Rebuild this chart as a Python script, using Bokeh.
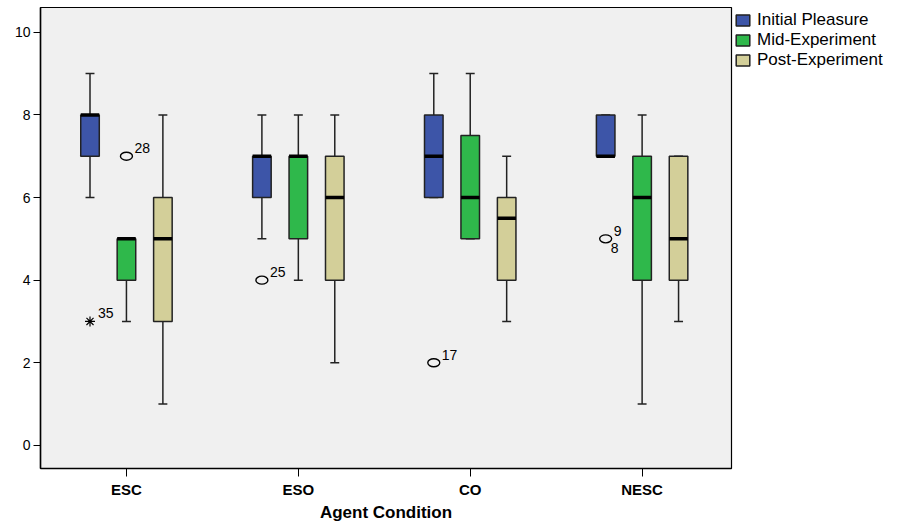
from bokeh.plotting import figure
from bokeh.models import (Range1d, FixedTicker, Legend, LegendItem, ColumnDataSource)
from bokeh.core.properties import value
from bokeh.embed import file_html
from bokeh.resources import INLINE

categories = ["ESC", "ESO", "CO", "NESC"]
series_names = ["Initial Pleasure", "Mid-Experiment", "Post-Experiment"]
series_colors = ["#3D55A8", "#2FB84B", "#D3CF99"]

# per series: values for ESC, ESO, CO, NESC
initial_low = [6, 5, 6, 7]
initial_q1 = [7, 6, 6, 7]
initial_med = [8, 7, 7, 7]
initial_q3 = [8, 7, 8, 8]
initial_high = [9, 8, 9, 8]

mid_low = [3, 4, 5, 1]
mid_q1 = [4, 5, 5, 4]
mid_med = [5, 7, 6, 6]
mid_q3 = [5, 7, 7.5, 7]
mid_high = [5, 8, 9, 8]

post_low = [1, 2, 3, 3]
post_q1 = [3, 4, 4, 4]
post_med = [5, 6, 5.5, 5]
post_q3 = [6, 7, 6, 7]
post_high = [8, 8, 7, 7]

# outliers: category index, series index, value, label, kind
out_cat = [0, 0, 1, 2, 3]
out_series = [0, 1, 0, 0, 0]
out_value = [3, 7, 4, 2, 5]
out_kind = ["star", "circle", "circle", "circle", "circle"]
out_label_top = ["35", "28", "25", "17", "9"]
out_label_bottom = ["", "", "", "", "8"]

series_stats = [
    (initial_low, initial_q1, initial_med, initial_q3, initial_high),
    (mid_low, mid_q1, mid_med, mid_q3, mid_high),
    (post_low, post_q1, post_med, post_q3, post_high),
]

offsets = [-0.212, 0.0, 0.212]
box_w = 0.108
cap_w = 0.052
FONT = "Liberation Sans"

p = figure(width=916, height=522, frame_width=691, frame_height=461,
           output_backend="svg", toolbar_location=None,
           x_range=Range1d(-0.5, 3.52), y_range=Range1d(-0.56, 10.6),
           min_border_left=40, min_border_right=0, min_border_top=7, min_border_bottom=0)

p.background_fill_color = "#F0F0F0"
p.border_fill_color = "white"
p.outline_line_color = "black"
p.outline_line_width = 1.2
p.xgrid.visible = False
p.ygrid.visible = False

legend_items = []
for si, (lo, q1, med, q3, hi) in enumerate(series_stats):
    xs = [i + offsets[si] for i in range(len(categories))]
    src = ColumnDataSource(dict(x=xs, lo=lo, q1=q1, med=med, q3=q3, hi=hi,
                                xl=[x - cap_w / 2 for x in xs], xr=[x + cap_w / 2 for x in xs],
                                bl=[x - box_w / 2 for x in xs], br=[x + box_w / 2 for x in xs]))
    # whiskers
    p.segment(x0="x", y0="q3", x1="x", y1="hi", source=src, line_color="#222222", line_width=1.5)
    p.segment(x0="x", y0="lo", x1="x", y1="q1", source=src, line_color="#222222", line_width=1.5)
    p.segment(x0="xl", y0="hi", x1="xr", y1="hi", source=src, line_color="#222222", line_width=1.5)
    p.segment(x0="xl", y0="lo", x1="xr", y1="lo", source=src, line_color="#222222", line_width=1.5)
    # box
    r = p.vbar(x="x", width=box_w, bottom="q1", top="q3", source=src,
               fill_color=series_colors[si], line_color="#222222", line_width=1.5)
    # median
    p.segment(x0="bl", y0="med", x1="br", y1="med", source=src, line_color="black", line_width=3.5)
    legend_items.append(LegendItem(label=series_names[si], renderers=[r]))

ox = [out_cat[i] + offsets[out_series[i]] for i in range(len(out_cat))]
circ_idx = [i for i in range(len(ox)) if out_kind[i] == "circle"]
star_idx = [i for i in range(len(ox)) if out_kind[i] == "star"]
p.ellipse(x=[ox[i] for i in circ_idx], y=[out_value[i] for i in circ_idx],
          width=12, height=8, width_units="screen", height_units="screen",
          fill_color=None, line_color="black", line_width=1.4)
p.scatter(x=[ox[i] for i in star_idx], y=[out_value[i] for i in star_idx],
          marker="asterisk", size=10, line_color="black", line_width=1.2)
p.text(x=ox, y=out_value, text=out_label_top, x_offset=8, y_offset=-3,
       text_font=value(FONT), text_font_size="14px", text_align="left",
       text_baseline="bottom", text_color="black")
p.text(x=ox, y=out_value, text=out_label_bottom, x_offset=5, y_offset=4,
       text_font=value(FONT), text_font_size="14px", text_align="left",
       text_baseline="top", text_color="black")

# axes
p.xaxis.ticker = FixedTicker(ticks=list(range(len(categories))))
p.xaxis.major_label_overrides = {i: c for i, c in enumerate(categories)}
p.xaxis.major_label_text_font = FONT
p.xaxis.major_label_text_font_style = "bold"
p.xaxis.major_label_text_font_size = "15px"
p.xaxis.major_label_text_color = "black"
p.xaxis.major_tick_in = 0
p.xaxis.major_tick_out = 8
p.xaxis.minor_tick_line_color = None
p.xaxis.axis_line_width = 1.5
p.xaxis.axis_label = "Agent Condition"
p.xaxis.axis_label_text_font = FONT
p.xaxis.axis_label_text_font_style = "bold"
p.xaxis.axis_label_text_font_size = "17px"
p.xaxis.axis_label_text_color = "black"
p.xaxis.axis_label_standoff = 2
p.xaxis.major_label_standoff = 4

p.yaxis.ticker = FixedTicker(ticks=[0, 2, 4, 6, 8, 10])
p.yaxis.major_label_text_font = FONT
p.yaxis.major_label_text_font_size = "14px"
p.yaxis.major_label_text_color = "black"
p.yaxis.major_tick_in = 0
p.yaxis.major_tick_out = 7
p.yaxis.minor_tick_line_color = None
p.yaxis.axis_line_width = 1.5
p.yaxis.major_label_standoff = 3

legend = Legend(items=legend_items, location="top_left",
                label_text_font=FONT, label_text_font_size="17px",
                label_text_color="black", glyph_width=17, glyph_height=14,
                spacing=0, padding=0, margin=3, label_standoff=6,
                border_line_color=None, background_fill_alpha=0, label_height=14)
p.add_layout(legend, "right")

open("out.html", "w").write(file_html(p, INLINE))
